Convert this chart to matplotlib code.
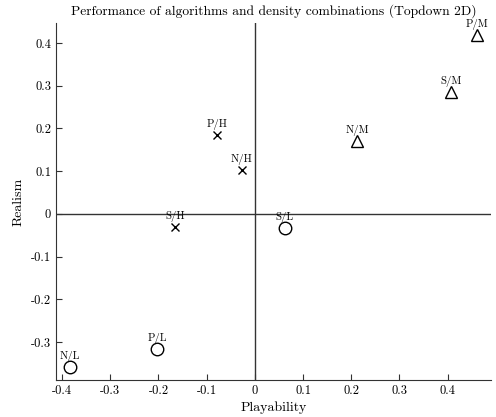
import matplotlib
matplotlib.use('Agg')
from matplotlib import pyplot as plt

plt.rcParams['font.family'] = 'serif'
plt.rcParams['font.serif'] = ['cmr10', 'DejaVu Serif']
plt.rcParams['mathtext.fontset'] = 'cm'
plt.rcParams['axes.unicode_minus'] = False
plt.rcParams['axes.formatter.use_mathtext'] = True

labels = ['N/L', 'P/L', 'S/L', 'N/M', 'P/M', 'S/M', 'N/H', 'P/H', 'S/H']
playability = [-0.384, -0.203, 0.062, 0.212, 0.460, 0.407, -0.027, -0.079, -0.166]
realism = [-0.358, -0.316, -0.033, 0.171, 0.419, 0.286, 0.103, 0.185, -0.030]

xticks = [-0.4, -0.3, -0.2, -0.1, 0, 0.1, 0.2, 0.3, 0.4]
yticks = [-0.3, -0.2, -0.1, 0, 0.1, 0.2, 0.3, 0.4]

markers = {'L': ('o', 9), 'M': ('^', 9), 'H': ('x', 6)}

fig = plt.figure(figsize=(4.96, 4.17), dpi=100)
ax = fig.add_axes([56 / 496, 1 - 380 / 417, 435 / 496, 357 / 417])

for lab, x, y in zip(labels, playability, realism):
    m, s = markers[lab[-1]]
    ax.plot(x, y, marker=m, markersize=s, color='black', markerfacecolor='none',
            markeredgewidth=1.0, linestyle='none')
    ax.annotate(lab, (x, y), xytext=(0, 10), textcoords='offset pixels',
                ha='center', va='center', fontsize=7.8)

ax.axhline(0, color='#333333', linewidth=1.0, zorder=0)
ax.axvline(0, color='#333333', linewidth=1.0, zorder=0)

ax.set_xlim(-0.4125, 0.49)
ax.set_ylim(-0.389, 0.447)
ax.set_xticks(xticks)
ax.set_xticklabels([('%g' % t) for t in xticks])
ax.set_yticks(yticks)
ax.set_yticklabels([('%g' % t) for t in yticks])
ax.tick_params(direction='in', length=4, labelsize=9, color='#333333')
ax.spines['top'].set_visible(False)
ax.spines['right'].set_visible(False)
ax.spines['left'].set_color('#333333')
ax.spines['bottom'].set_color('#333333')

ax.set_xlabel('Playability', fontsize=10, labelpad=3)
ax.set_ylabel('Realism', fontsize=10, labelpad=5)
ax.set_title('Performance of algorithms and density combinations (Topdown 2D)',
             fontsize=9.75, pad=6)

fig.savefig('out.png', dpi=100)
